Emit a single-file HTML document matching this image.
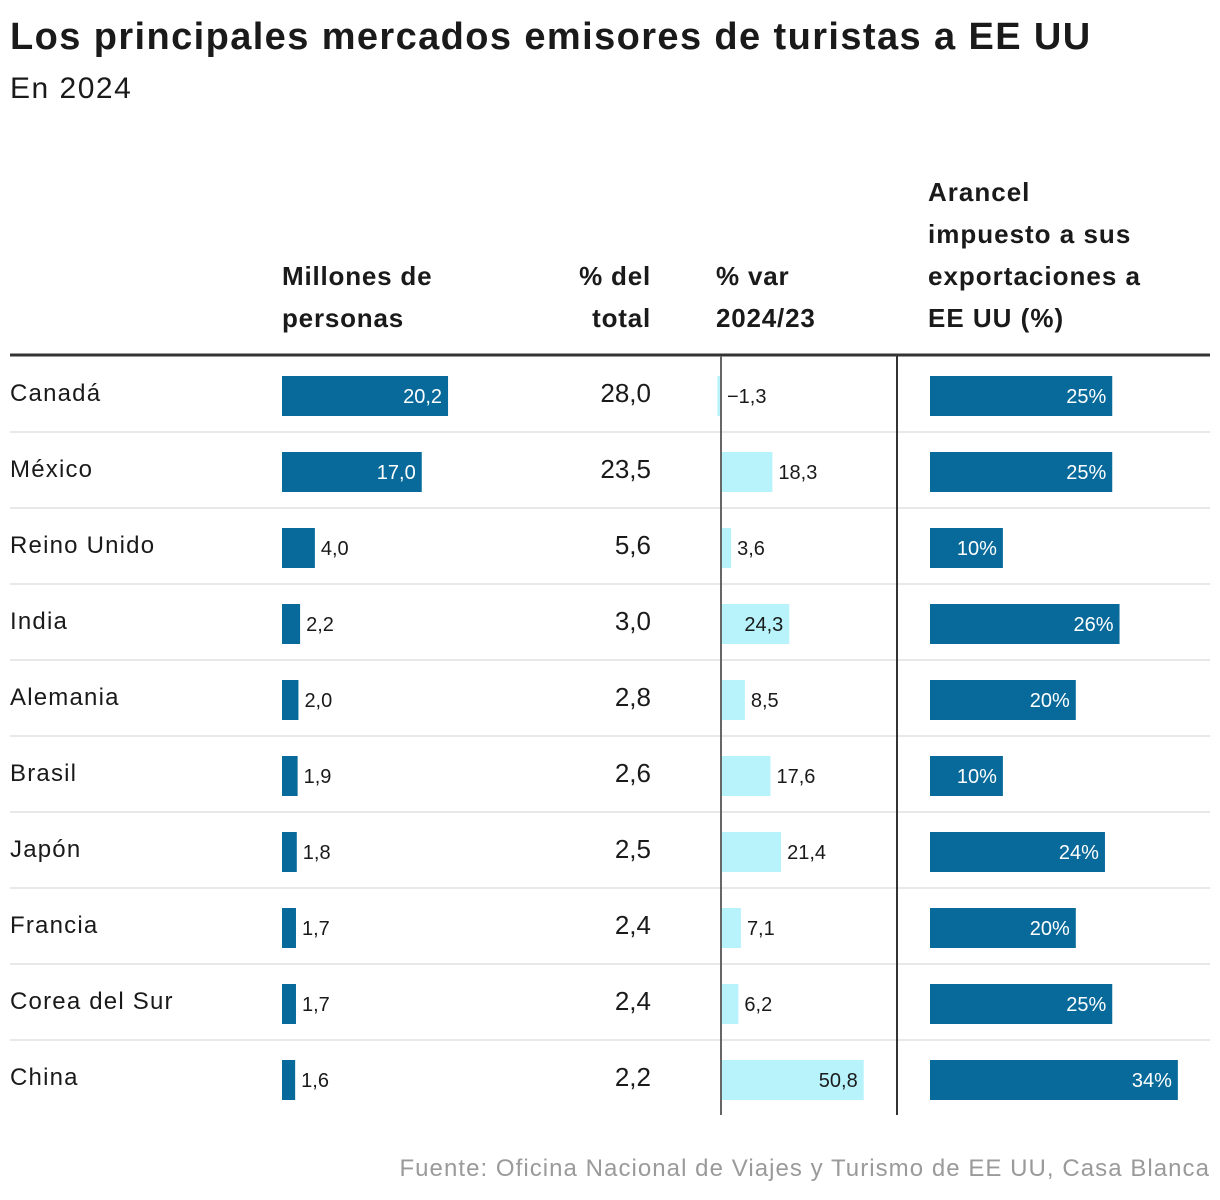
<!DOCTYPE html>
<html><head><meta charset="utf-8"><style>
body{margin:0;width:1220px;height:1200px;background:#fff;font-family:"Liberation Sans",sans-serif;color:#1a1a1a;position:relative;overflow:hidden}
.t{position:absolute;white-space:nowrap}
</style></head><body>
<div class="t" style="left:10px;top:16px;font-size:38px;font-weight:bold;letter-spacing:1.4px">Los principales mercados emisores de turistas a EE UU</div>
<div class="t" style="left:10px;top:72px;font-size:30px;letter-spacing:1.5px">En 2024</div>
<div class="t" style="left:282px;top:255px;font-size:26px;font-weight:bold;line-height:42px;letter-spacing:0.8px">Millones de<br>personas</div>
<div class="t" style="right:569px;top:255px;font-size:26px;font-weight:bold;line-height:42px;text-align:right;letter-spacing:0.8px">% del<br>total</div>
<div class="t" style="left:716px;top:255px;font-size:26px;font-weight:bold;line-height:42px;letter-spacing:0.8px">% var<br>2024/23</div>
<div class="t" style="left:928px;top:171px;font-size:26px;font-weight:bold;line-height:42px;letter-spacing:1px">Arancel<br>impuesto a sus<br>exportaciones a<br>EE UU (%)</div>
<svg id="c" width="1220" height="1200" style="position:absolute;left:0;top:0" font-family="Liberation Sans, sans-serif"></svg>
<div class="t" style="right:10px;top:1155px;font-size:24px;color:#9a9a9a;letter-spacing:1.05px">Fuente: Oficina Nacional de Viajes y Turismo de EE UU, Casa Blanca</div>
<script>
const countries=["Canadá","México","Reino Unido","India","Alemania","Brasil","Japón","Francia","Corea del Sur","China"];
const millones=[20.2,17.0,4.0,2.2,2.0,1.9,1.8,1.7,1.7,1.6];
const pctTotal=[28.0,23.5,5.6,3.0,2.8,2.6,2.5,2.4,2.4,2.2];
const variacion=[-1.3,18.3,3.6,24.3,8.5,17.6,21.4,7.1,6.2,50.8];
const arancel=[25,25,10,26,20,10,24,20,25,34];
const svg=document.getElementById('c');const NS="http://www.w3.org/2000/svg";
function el(t,a,p){const e=document.createElementNS(NS,t);for(const k in a)e.setAttribute(k,a[k]);(p||svg).appendChild(e);return e;}
function f(v){const s=Math.abs(v).toFixed(1).replace('.',',');return v<0?"\u2212"+s:s;}
const x1=v=>282+v*8.22, x3=v=>721+v*2.81, x4=v=>930+v*7.29;
const rowTop=i=>355+i*76, barY=i=>376+i*76, BH=40;
let l=el('line',{x1:10,x2:1210,y1:355,y2:355,stroke:'#333','stroke-width':3});


countries.forEach((c,i)=>{
  const cy=barY(i)+20;
  if(i>0){const s=el('line',{x1:10,x2:1210,y1:rowTop(i)+1,y2:rowTop(i)+1,stroke:'#e8e8e8','stroke-width':2});
    
    }
  const t=el('text',{x:10,y:cy+5,'font-size':24,fill:'#1a1a1a','letter-spacing':1.2});t.textContent=c;
  
  
  const w1=x1(millones[i])-282;
  const b1=el('rect',{x:282,y:barY(i),width:w1,height:BH,fill:'#076a9b'});
  
  
  const in1=w1>60;
  const t1=el('text',{x:in1?x1(millones[i])-6:x1(millones[i])+6,y:cy+7,'font-size':20,fill:in1?'#fff':'#1a1a1a','text-anchor':in1?'end':'start'});t1.textContent=f(millones[i]);
  
  
  const t2=el('text',{x:651,y:cy+6,'font-size':26,fill:'#1a1a1a','text-anchor':'end'});t2.textContent=f(pctTotal[i]);
  
  
  const v=variacion[i];const a=Math.min(721,x3(v)),b=Math.max(721,x3(v));
  const b3=el('rect',{x:a,y:barY(i),width:b-a,height:BH,fill:'#b8f3fc'});
  
  
  const in3=v>=24;
  const t3=el('text',{x:in3?x3(v)-6:Math.max(721,x3(v))+6,y:cy+7,'font-size':20,fill:'#1a1a1a','text-anchor':in3?'end':'start'});t3.textContent=f(v);
  
  
  const b4=el('rect',{x:930,y:barY(i),width:x4(arancel[i])-930,height:BH,fill:'#076a9b'});
  
  
  const t4=el('text',{x:x4(arancel[i])-6,y:cy+7,'font-size':20,fill:'#fff','text-anchor':'end'});t4.textContent=arancel[i]+"%";
  
  
});
const z=el('line',{x1:721,x2:721,y1:356,y2:1115,stroke:'#666','stroke-width':2});


const d=el('line',{x1:897,x2:897,y1:356,y2:1115,stroke:'#333','stroke-width':2});


</script>
</body></html>
